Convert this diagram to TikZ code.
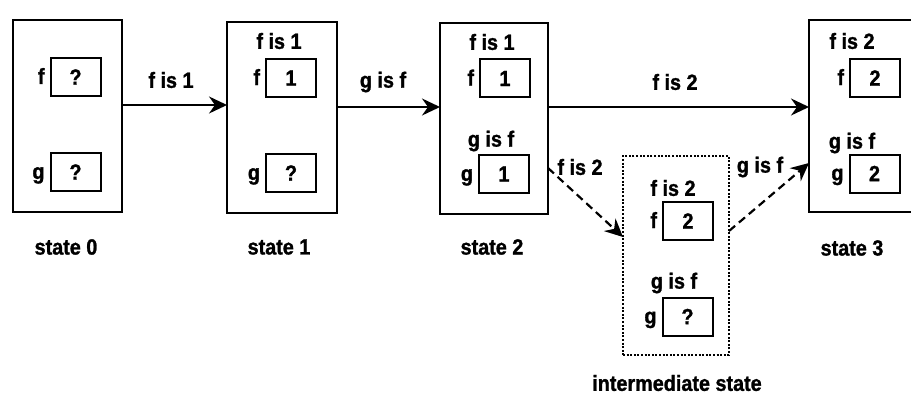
\documentclass[tikz,border=0pt]{standalone}
\usepackage{fontspec}
\setmainfont{Liberation Sans}[FakeStretch=0.9, BoldFeatures={FakeBold=1.2}]
\usetikzlibrary{arrows.meta}
\begin{document}
\begin{tikzpicture}[x=1pt,y=-1pt,
  every node/.style={font=\fontsize{22}{25}\selectfont\bfseries, inner sep=0pt, outer sep=0pt},
  statebox/.style={draw, line width=2.4pt},
  midbox/.style={draw, line width=2pt, dash pattern=on 2pt off 1.6pt},
  valbox/.style={draw, line width=2pt, minimum width=50pt, minimum height=38pt},
  varname/.style={anchor=base east, at={([xshift=-6pt,yshift=-7pt]#1.west)}},
  arr/.style={line width=2.2pt, -{Stealth[length=18pt,width=17pt,inset=6pt]}},
  darr/.style={arr, dash pattern=on 8pt off 5pt}]
\useasboundingbox (0,0) rectangle (911,396);
\clip (0,0) rectangle (911,396);

% the four states and the intermediate state
\node[statebox, minimum width=109pt, minimum height=192pt] (s0) at (67.5,116) {};
\node[statebox, minimum width=110pt, minimum height=191pt] (s1) at (282,117.5) {};
\node[statebox, minimum width=108pt, minimum height=191pt] (s2) at (494,118.5) {};
\node[statebox, minimum width=121pt, minimum height=192pt] (s3) at (869.5,116) {};
\node[midbox, minimum width=106pt, minimum height=199pt] (mid) at (676,255.5) {};

% state 0
\node[valbox] (s0f) at (75.5,77) {?};
\node[valbox] (s0g) at (75.5,172) {?};
\node[varname=s0f] (s0fn) {f};
\node[varname=s0g] (s0gn) {g};
\node (s0lab) at (66,247) {state 0};

% state 1
\node (s1h) at (279,41) {f is 1};
\node[valbox] (s1f) at (291,78) {1};
\node[valbox] (s1g) at (291,173) {?};
\node[varname=s1f] (s1fn) {f};
\node[varname=s1g] (s1gn) {g};
\node (s1lab) at (279,247) {state 1};

% state 2
\node (s2h1) at (492,42) {f is 1};
\node[valbox] (s2f) at (505,78.5) {1};
\node (s2h2) at (491,141) {g is f};
\node[valbox] (s2g) at (504,174) {1};
\node[varname=s2f] (s2fn) {f};
\node[varname=s2g] (s2gn) {g};
\node (s2lab) at (492,247) {state 2};

% state 3
\node (s3h1) at (852,41) {f is 2};
\node[valbox] (s3f) at (875,78) {2};
\node (s3h2) at (852,143) {g is f};
\node[valbox] (s3g) at (874.5,173.5) {2};
\node[varname=s3f] (s3fn) {f};
\node[varname=s3g] (s3gn) {g};
\node (s3lab) at (852,248) {state 3};

% intermediate state
\node (mh1) at (673,188) {f is 2};
\node[valbox] (mf) at (688,221) {2};
\node (mh2) at (674,283) {g is f};
\node[valbox] (mg) at (687.5,316.5) {?};
\node[varname=mf] (mfn) {f};
\node[varname=mg] (mgn) {g};
\node (midlab) at (677,383) {intermediate state};

% transitions
\coordinate (r1) at (0,105);
\coordinate (r2) at (0,107);
\draw[arr] (s0.east |- r1) -- (s1.west |- r1);
\draw[arr] (s1.east |- r2) -- (s2.west |- r2);
\draw[arr] (s2.east |- r2) -- (s3.west |- r2);
\node (t01) at (171,80) {f is 1};
\node (t12) at (383,82) {g is f};
\node (t23) at (675,82) {f is 2};

\coordinate (d1) at (0,168);
\coordinate (d2) at (0,237);
\coordinate (d3) at (0,231);
\coordinate (d4) at (0,163);
\draw[darr] (s2.east |- d1) -- (mid.west |- d2);
\draw[darr] (mid.east |- d3) -- (s3.west |- d4);
\node (t2m) at (580,167) {f is 2};
\node (tm3) at (760,167) {g is f};
\end{tikzpicture}
\end{document}
